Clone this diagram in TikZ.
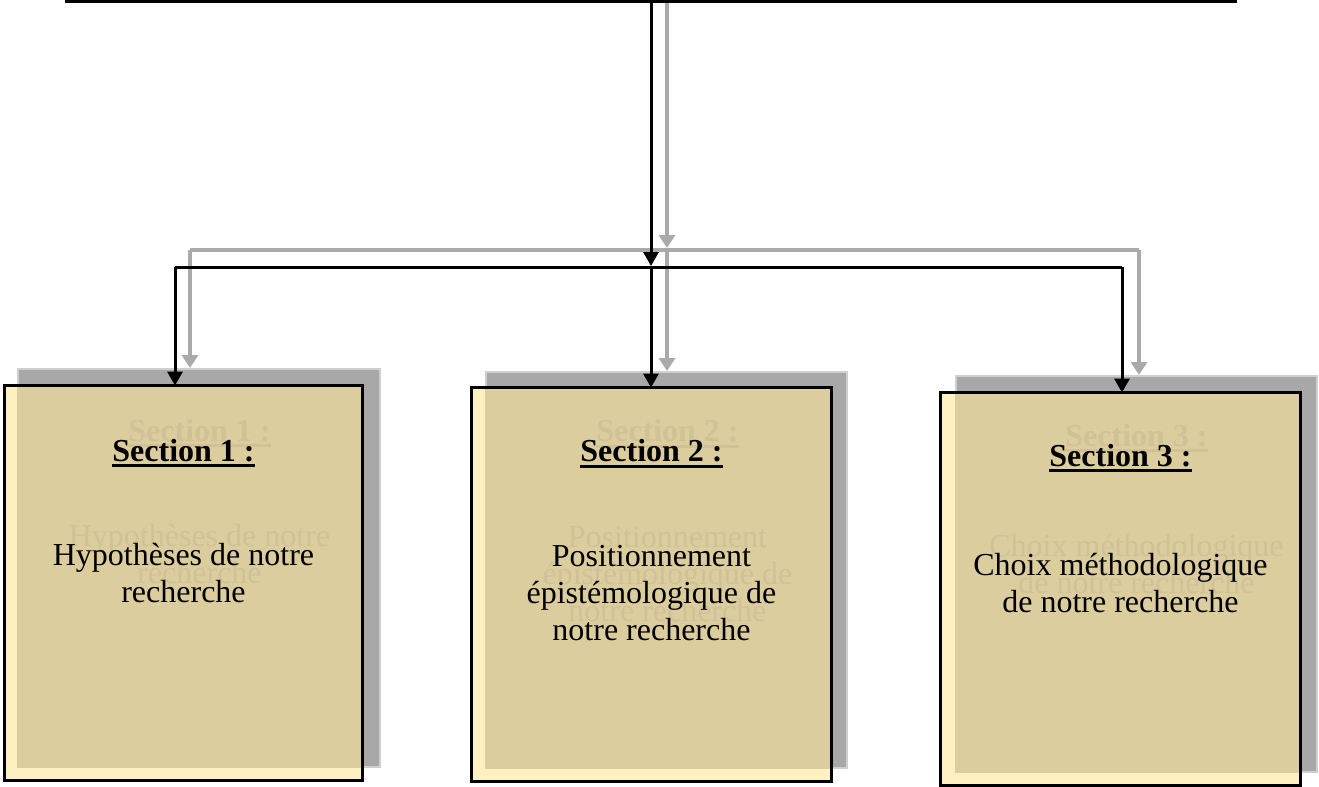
\documentclass[tikz,border=0pt]{standalone}
\usepackage{fontspec}
\setmainfont{Liberation Serif}
\usetikzlibrary{arrows.meta,calc}
\definecolor{cream}{RGB}{255,240,193}
\definecolor{tanfill}{RGB}{220,205,158}
\definecolor{ghost}{RGB}{208,194,150}
\definecolor{shadowgray}{RGB}{168,168,168}
\definecolor{linkgray}{RGB}{170,170,170}

\begin{document}
\begin{tikzpicture}[x=0.5pt,y=-0.5pt,
  blackline/.style={line width=1.5pt,draw=black},
  blackarrow/.style={blackline,-{Triangle[width=7.5pt,length=7pt]}},
  grayline/.style={line width=2.2pt,draw=linkgray},
  grayarrow/.style={grayline,-{Triangle[width=8pt,length=6.5pt]}},
  shadowbox/.style={draw=shadowgray!55,line width=1pt,fill=shadowgray,inner sep=0pt},
  frontbox/.style={draw=none,fill=cream,inner sep=0pt},
  title/.style={font=\fontsize{16}{18.5}\selectfont\bfseries,inner sep=0pt,anchor=base},
  body/.style={font=\fontsize{16}{18.4}\selectfont,inner sep=0pt,align=center,anchor=base},
  uline/.style={line width=1.35pt},
]
\useasboundingbox (0,0) rectangle (1319,787);

% shadows behind the three section boxes
\node[shadowbox,minimum width=181pt,minimum height=199pt] (s1) at (199,568) {};
\node[shadowbox,minimum width=180.5pt,minimum height=198pt] (s2) at (666.5,570) {};
\node[shadowbox,minimum width=180.5pt,minimum height=198pt] (s3) at (1136.5,574) {};

% shadow of the connectors
\coordinate (gtop) at (667,0);
\coordinate (gbusM) at (667,250);
\coordinate (gbusL) at (190,250);
\coordinate (gbusR) at (1139,250);
\draw[grayarrow] (gtop) -- ([yshift=1pt]gbusM);
\draw[grayline] (gbusL) -- (gbusR);
\draw[grayarrow] (gbusL) -- (gbusL |- s1.north);
\draw[grayarrow] (gbusM) -- (gbusM |- s2.north);
\draw[grayarrow] (gbusR) -- (gbusR |- s3.north);

% section boxes
\node[frontbox,minimum width=178.5pt,minimum height=197pt] (b1) at (183.5,583) {};
\node[frontbox,minimum width=179.5pt,minimum height=196.5pt] (b2) at (651.5,584.5) {};
\node[frontbox,minimum width=179.5pt,minimum height=196pt] (b3) at (1120.5,589) {};

% titles sit on their baseline; bodies on the baseline of their last line
\coordinate (t1pos) at (183.5,461);
\coordinate (h1pos) at (183.5,602);
\coordinate (t2pos) at (651.5,461.5);
\coordinate (h2pos) at (651.5,640);
\coordinate (t3pos) at (1120.5,466);
\coordinate (h3pos) at (1120.5,612);

% shadow tint and faded texts seen through each box
\begin{scope}
  \clip (b1.north west) rectangle (b1.south east);
  \fill[tanfill] (s1.north west) rectangle (s1.south east);
  \node[title,text=ghost] (gt1) at ($(t1pos)+(16,-20)$) {Section 1 :};
  \draw[uline,ghost] ([yshift=-2.4pt]gt1.base west) -- ([yshift=-2.4pt]gt1.base east);
  \node[body,text=ghost] (gh1) at ($(h1pos)+(16,-19)$) {Hypothèses de notre\\recherche};
\end{scope}
\begin{scope}
  \clip (b2.north west) rectangle (b2.south east);
  \fill[tanfill] (s2.north west) rectangle (s2.south east);
  \node[title,text=ghost] (gt2) at ($(t2pos)+(16,-20)$) {Section 2 :};
  \draw[uline,ghost] ([yshift=-2.4pt]gt2.base west) -- ([yshift=-2.4pt]gt2.base east);
  \node[body,text=ghost] (gh2) at ($(h2pos)+(16,-19)$) {Positionnement\\épistémologique de\\notre recherche};
\end{scope}
\begin{scope}
  \clip (b3.north west) rectangle (b3.south east);
  \fill[tanfill] (s3.north west) rectangle (s3.south east);
  \node[title,text=ghost] (gt3) at ($(t3pos)+(16,-20)$) {Section 3 :};
  \draw[uline,ghost] ([yshift=-2.4pt]gt3.base west) -- ([yshift=-2.4pt]gt3.base east);
  \node[body,text=ghost] (gh3) at ($(h3pos)+(16,-19)$) {Choix méthodologique\\de notre recherche};
\end{scope}

\node[title] (t1) at (t1pos) {Section 1 :};
\draw[uline] ([yshift=-2.4pt]t1.base west) -- ([yshift=-2.4pt]t1.base east);
\node[body] (h1) at (h1pos) {Hypothèses de notre\\recherche};

\node[title] (t2) at (t2pos) {Section 2 :};
\draw[uline] ([yshift=-2.4pt]t2.base west) -- ([yshift=-2.4pt]t2.base east);
\node[body] (h2) at (h2pos) {Positionnement\\épistémologique de\\notre recherche};

\node[title] (t3) at (t3pos) {Section 3 :};
\draw[uline] ([yshift=-2.4pt]t3.base west) -- ([yshift=-2.4pt]t3.base east);
\node[body] (h3) at (h3pos) {Choix méthodologique\\de notre recherche};

% box borders
\draw[blackline] (b1.north west) rectangle (b1.south east);
\draw[blackline] (b2.north west) rectangle (b2.south east);
\draw[blackline] (b3.north west) rectangle (b3.south east);

% connectors
\coordinate (topL) at (65,1.5);
\coordinate (topR) at (1237,1.5);
\coordinate (topC) at (651,1.5);
\coordinate (busM) at (651,267);
\coordinate (busL) at (175,267);
\coordinate (busR) at (1122,267);
\draw[blackline] (topL) -- (topR);
\draw[blackarrow] (topC) -- ([yshift=0.5pt]busM);
\draw[blackline] (busL) -- (busR);
\draw[blackarrow] (busL) -- (busL |- b1.north);
\draw[blackarrow] (busM) -- (busM |- b2.north);
\draw[blackarrow] (busR) -- (busR |- b3.north);
\end{tikzpicture}
\end{document}
